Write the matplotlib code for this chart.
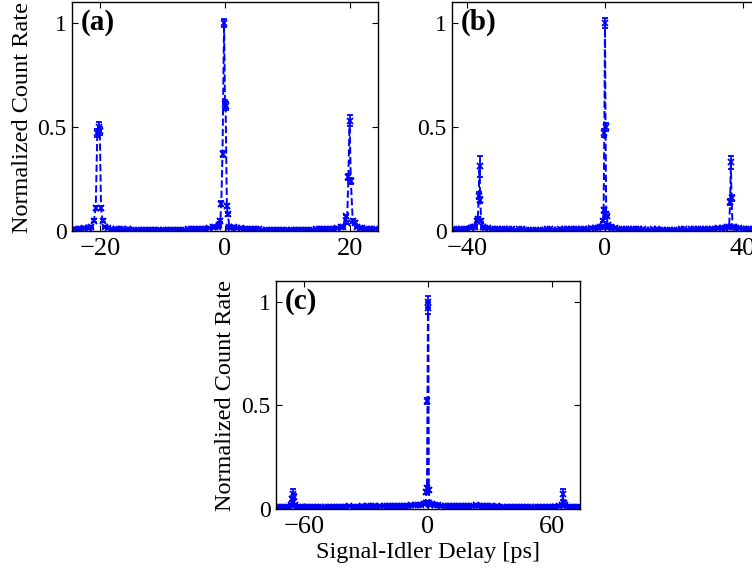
import matplotlib
matplotlib.use("Agg")
import matplotlib.pyplot as plt

plt.rcParams['font.family'] = ['Liberation Serif', 'DejaVu Serif']

# ---------------- data ----------------
# panel (a): background points
bg_delay_a = [-24, -23.5, -23, -22.5, -22, -21.7,
              -18.7, -18.2, -17.5, -17, -16.5, -16, -15.5, -15, -14.5, -14, -13.5, -13, -12.5, -12,
              -11.5, -11, -10.5, -10, -9.5, -9, -8.5, -8, -7.5, -7, -6.5, -6, -5.5, -5, -4.5, -4,
              -3.5, -3, -2.5, -2, -1.6,
              1.4, 2, 2.5, 3, 3.5, 4, 4.5, 5, 5.5, 6, 6.5, 7, 7.5, 8, 8.5, 9, 9.5, 10, 10.5, 11,
              11.5, 12, 12.5, 13, 13.5, 14, 14.5, 15, 15.5, 16, 16.5, 17, 17.5, 18, 18.5,
              21.6, 22, 22.5, 23, 23.5, 24]
bg_rate_a = [0.012, 0.010, 0.011, 0.013, 0.014, 0.016,
             0.015, 0.012, 0.010, 0.009, 0.008, 0.007, 0.008, 0.006, 0.007, 0.007, 0.006, 0.005, 0.006, 0.006,
             0.007, 0.007, 0.006, 0.006, 0.005, 0.005, 0.006, 0.007, 0.007, 0.006, 0.007, 0.008, 0.008, 0.009, 0.009, 0.010,
             0.011, 0.012, 0.014, 0.018, 0.020,
             0.018, 0.015, 0.013, 0.011, 0.010, 0.009, 0.009, 0.008, 0.008, 0.007, 0.006, 0.006, 0.007, 0.007, 0.006, 0.006, 0.005, 0.005, 0.006, 0.006,
             0.005, 0.005, 0.006, 0.006, 0.007, 0.007, 0.008, 0.008, 0.009, 0.009, 0.010, 0.011, 0.012, 0.016, 0.018,
             0.015, 0.013, 0.012, 0.011, 0.012, 0.012]
bg_err_a = 0.004
# panel (a): peak points
pk_delay_a = [-21.4, -21.0, -20.7, -20.45, -20.25, -20.05, -19.85, -19.6, -19.2,
              -1.2, -0.9, -0.75, -0.6, -0.4, -0.15, 0.0, 0.1, 0.3, 0.45, 0.7, 1.0,
              18.9, 19.3, 19.55, 19.75, 19.95, 20.15, 20.45, 20.8, 21.2]
pk_rate_a = [0.02, 0.05, 0.11, 0.47, 0.50, 0.48, 0.11, 0.05, 0.02,
             0.02, 0.03, 0.05, 0.13, 0.37, 1.0, 0.61, 0.60, 0.12, 0.08, 0.02, 0.015,
             0.02, 0.07, 0.04, 0.26, 0.53, 0.24, 0.05, 0.04, 0.02]
pk_err_a = [0.005, 0.008, 0.01, 0.02, 0.025, 0.02, 0.01, 0.008, 0.005,
            0.005, 0.006, 0.008, 0.012, 0.015, 0.02, 0.02, 0.02, 0.01, 0.008, 0.005, 0.004,
            0.005, 0.008, 0.006, 0.015, 0.025, 0.015, 0.008, 0.006, 0.005]

# panel (b): background points
bg_delay_b = [-44, -43, -42, -41, -40, -39, -38.4,
              -35, -34, -33, -32, -31, -30, -29, -28, -27, -26, -25, -24, -23, -22, -21, -20, -19,
              -18, -17, -16, -15, -14, -13, -12, -11, -10, -9, -8, -7, -6, -5, -4, -3, -2, -1.5,
              1.7, 2, 3, 4, 5, 6, 7, 8, 9, 10, 11, 12, 13, 14, 15, 16, 17, 18, 19, 20, 21, 22,
              23, 24, 25, 26, 27, 28, 29, 30, 31, 32, 33, 34, 35,
              38.2, 39, 40, 41, 42, 43, 44]
bg_rate_b = [0.010, 0.011, 0.010, 0.012, 0.012, 0.014, 0.018,
             0.016, 0.013, 0.011, 0.010, 0.010, 0.009, 0.009, 0.008, 0.008, 0.007, 0.008, 0.008, 0.007, 0.007, 0.006, 0.006, 0.007,
             0.007, 0.008, 0.008, 0.007, 0.007, 0.008, 0.008, 0.009, 0.009, 0.010, 0.010, 0.011, 0.011, 0.012, 0.013, 0.014, 0.016, 0.018,
             0.018, 0.015, 0.014, 0.012, 0.011, 0.010, 0.010, 0.009, 0.009, 0.008, 0.008, 0.007, 0.007, 0.008, 0.008, 0.007, 0.007, 0.006, 0.006, 0.007, 0.007, 0.008,
             0.008, 0.007, 0.008, 0.008, 0.009, 0.009, 0.010, 0.010, 0.011, 0.012, 0.013, 0.014, 0.016,
             0.016, 0.014, 0.012, 0.011, 0.010, 0.011, 0.011]
bg_err_b = 0.004
# panel (b): peak points
pk_delay_b = [-37.8, -37.3, -37.0, -36.7, -36.5, -36.3, -36.0, -35.5,
              -1.0, -0.6, -0.4, -0.2, 0.0, 0.15, 0.35, 0.5, 0.8, 1.2,
              35.6, 36.1, 36.4, 36.6, 36.8, 37.1, 37.6]
pk_rate_b = [0.02, 0.05, 0.06, 0.17, 0.31, 0.15, 0.05, 0.02,
             0.02, 0.05, 0.10, 0.47, 1.0, 0.50, 0.08, 0.07, 0.03, 0.02,
             0.02, 0.02, 0.14, 0.33, 0.16, 0.02, 0.02]
pk_err_b = [0.005, 0.008, 0.008, 0.015, 0.05, 0.015, 0.008, 0.005,
            0.005, 0.008, 0.012, 0.02, 0.025, 0.02, 0.01, 0.008, 0.005, 0.004,
            0.005, 0.005, 0.015, 0.03, 0.015, 0.005, 0.005]

# panel (c): background points
bg_delay_c = [-73, -71.5, -70, -68.5, -67.2,
              -63.5, -62, -60.5, -59, -57.5, -56, -54.5, -53, -51.5, -50, -48.5, -47, -45.5, -44,
              -42.5, -41, -39.5, -38, -36.5, -35, -33.5, -32, -30.5, -29, -27.5, -26, -24.5, -23,
              -21.5, -20, -18.5, -17, -15.5, -14, -12.5, -11, -9.5, -8, -6.5, -5, -3.5, -2,
              2, 3.5, 5, 6.5, 8, 9.5, 11, 12.5, 14, 15.5, 17, 18.5, 20, 21.5, 23, 24.5, 26, 27.5,
              29, 30.5, 32, 33.5, 35, 36.5, 38, 39.5, 41, 42.5, 44, 45.5, 47, 48.5, 50, 51.5, 53,
              54.5, 56, 57.5, 59, 60.5, 62, 63.5,
              67.2, 68.5, 70, 71.5, 73]
bg_rate_c = [0.012, 0.011, 0.010, 0.011, 0.012,
             0.010, 0.009, 0.009, 0.008, 0.009, 0.008, 0.008, 0.009, 0.010, 0.009, 0.010, 0.011, 0.010, 0.011,
             0.012, 0.011, 0.012, 0.013, 0.012, 0.011, 0.012, 0.013, 0.012, 0.013, 0.014, 0.013, 0.012, 0.013,
             0.014, 0.015, 0.014, 0.013, 0.014, 0.015, 0.016, 0.015, 0.016, 0.017, 0.018, 0.019, 0.020, 0.022,
             0.022, 0.019, 0.017, 0.016, 0.016, 0.015, 0.015, 0.014, 0.015, 0.016, 0.015, 0.014, 0.015, 0.016, 0.017, 0.016, 0.015, 0.014,
             0.013, 0.013, 0.012, 0.013, 0.012, 0.011, 0.012, 0.011, 0.010, 0.011, 0.010, 0.010, 0.011, 0.010, 0.009, 0.010, 0.009,
             0.010, 0.009, 0.010, 0.011, 0.011, 0.012, 0.014,
             0.012, 0.011, 0.010, 0.011, 0.012]
bg_err_c = 0.005
# panel (c): peak points
pk_delay_c = [-66.3, -65.6, -65.3, -65.0, -64.5,
              -1.2, -0.8, -0.5, -0.25, 0.0, 0.15, 0.4, 0.7, 1.2,
              64.8, 65.3, 65.7, 66.2]
pk_rate_c = [0.02, 0.05, 0.07, 0.06, 0.02,
             0.03, 0.08, 0.10, 0.52, 1.0, 0.97, 0.09, 0.03, 0.02,
             0.02, 0.07, 0.03, 0.02]
pk_err_c = [0.005, 0.01, 0.025, 0.01, 0.005,
            0.008, 0.01, 0.012, 0.015, 0.03, 0.03, 0.01, 0.008, 0.005,
            0.005, 0.025, 0.01, 0.005]

panel_labels = ['(a)', '(b)', '(c)']
xticks_a = [-20, 0, 20]
xticks_b = [-40, 0, 40]
xticks_c = [-60, 0, 60]
yticks = [0, 0.5, 1]
ytick_labels = ['0', '0.5', '1']
ylabel_text = 'Normalized Count Rate'
xlabel_text = 'Signal-Idler Delay [ps]'

# ---------------- figure ----------------
W, H = 752, 571
fig = plt.figure(figsize=(W / 100, H / 100), dpi=100)

def px_axes(left, top, right, bottom):
    return fig.add_axes([left / W, (H - bottom) / H, (right - left) / W, (bottom - top) / H])

ax_a = px_axes(72, 2, 378, 231)
ax_b = px_axes(452, 2, 758, 231)
ax_c = px_axes(276, 281, 580, 509)

blue = '#0000ff'

def merge(bx, by, be, px, py, pe):
    rows = [(x, y, be) for x, y in zip(bx, by)] + list(zip(px, py, pe))
    rows.sort(key=lambda r: r[0])
    return [r[0] for r in rows], [r[1] for r in rows], [r[2] for r in rows]

def draw(ax, data, xlim, xticks, label):
    x, y, e = merge(*data)
    ax.errorbar(x, y, yerr=e, color=blue, ls='--', lw=1.4, marker='x', ms=4.5,
                mew=1.3, elinewidth=1.3, capsize=2.5, capthick=1.3)
    ax.set_xlim(*xlim)
    ax.set_ylim(0, 1.1)
    ax.set_xticks(xticks)
    ax.set_yticks(yticks)
    ax.set_yticklabels(ytick_labels)
    ax.tick_params(direction='in', top=True, right=True, length=4, width=0.8, pad=4)
    ax.tick_params(axis='y', labelsize=17)
    ax.tick_params(axis='x', labelsize=19, pad=5)
    for s in ax.spines.values():
        s.set_linewidth(1.0)
        s.set_zorder(3)
    ax.text(0.03, 0.91, label, transform=ax.transAxes, ha='left', va='center',
            fontsize=21, fontweight='bold')

draw(ax_a, (bg_delay_a, bg_rate_a, bg_err_a, pk_delay_a, pk_rate_a, pk_err_a),
     (-24.5, 24.5), xticks_a, panel_labels[0])
draw(ax_b, (bg_delay_b, bg_rate_b, bg_err_b, pk_delay_b, pk_rate_b, pk_err_b),
     (-44.5, 44.5), xticks_b, panel_labels[1])
draw(ax_c, (bg_delay_c, bg_rate_c, bg_err_c, pk_delay_c, pk_rate_c, pk_err_c),
     (-73.5, 73.5), xticks_c, panel_labels[2])

ax_a.set_ylabel(ylabel_text, fontsize=17.5)
ax_a.yaxis.set_label_coords(-0.162, 0.495)
ax_c.set_ylabel(ylabel_text, fontsize=17.5)
ax_c.yaxis.set_label_coords(-0.167, 0.497)
ax_c.set_xlabel(xlabel_text, fontsize=17.5)
ax_c.xaxis.set_label_coords(0.5, -0.189)
ax_c.xaxis.label.set_va('center')
ax_a.yaxis.label.set_va('center')
ax_c.yaxis.label.set_va('center')

fig.savefig('out.png', dpi=100)
